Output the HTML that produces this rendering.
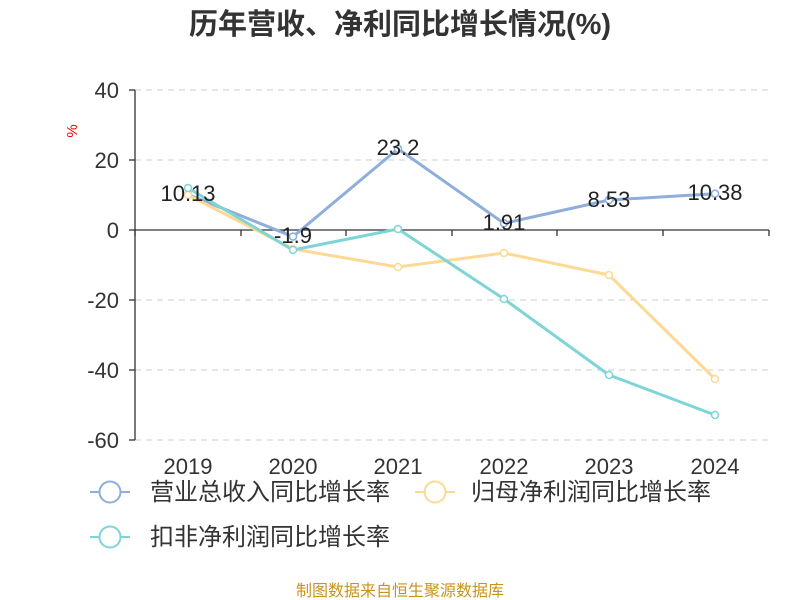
<!DOCTYPE html>
<html><head><meta charset="utf-8"><style>body{margin:0;background:#fff}svg{display:block}text{font-family:"Liberation Sans","Noto Sans CJK SC",sans-serif}</style></head><body>
<svg width="800" height="600" viewBox="0 0 800 600">
<text x="400" y="34" text-anchor="middle" font-size="29" font-weight="bold" fill="#333">历年营收、净利同比增长情况(%)</text>
<text transform="translate(77,131) rotate(-90)" text-anchor="middle" font-size="15" fill="#e00">%</text>
<g stroke="#ccc" stroke-dasharray="6,5" stroke-width="1">
<line x1="135" y1="90" x2="769" y2="90"/><line x1="135" y1="160" x2="769" y2="160"/><line x1="135" y1="300" x2="769" y2="300"/><line x1="135" y1="370" x2="769" y2="370"/><line x1="135" y1="440" x2="769" y2="440"/></g>
<g stroke="#333" stroke-width="1.3">
<line x1="135" y1="90" x2="135" y2="440"/>
<line x1="129" y1="90" x2="135" y2="90"/><line x1="129" y1="160" x2="135" y2="160"/><line x1="129" y1="230" x2="135" y2="230"/><line x1="129" y1="300" x2="135" y2="300"/><line x1="129" y1="370" x2="135" y2="370"/><line x1="129" y1="440" x2="135" y2="440"/>
<line x1="135" y1="230" x2="769" y2="230"/>
<line x1="135" y1="230" x2="135" y2="236"/><line x1="241" y1="230" x2="241" y2="236"/><line x1="346" y1="230" x2="346" y2="236"/><line x1="452" y1="230" x2="452" y2="236"/><line x1="557" y1="230" x2="557" y2="236"/><line x1="663" y1="230" x2="663" y2="236"/><line x1="769" y1="230" x2="769" y2="236"/></g>
<g font-size="22" fill="#333" text-anchor="end">
<text x="119" y="98">40</text><text x="119" y="168">20</text><text x="119" y="238">0</text><text x="119" y="308">-20</text><text x="119" y="378">-40</text><text x="119" y="448">-60</text></g>
<g font-size="22" fill="#333" text-anchor="middle">
<text x="188" y="474">2019</text><text x="293" y="474">2020</text><text x="398" y="474">2021</text><text x="504" y="474">2022</text><text x="609" y="474">2023</text><text x="715" y="474">2024</text></g>
<g fill="none" stroke-width="3">
<polyline stroke="#8eaedb" points="188,194.5 293,236.6 398,148.8 504,223.3 609,200 715,193.7"/>
<polyline stroke="#fdd993" points="188,195 293,249 398,267 504,253 609,275 715,379"/>
<polyline stroke="#7fd5d6" points="188,188 293,250 398,229 504,299 609,375 715,415"/></g>
<g fill="#fff" stroke-width="1.5">
<g stroke="#8eaedb"><circle cx="188" cy="194.5" r="3.5"/><circle cx="293" cy="236.6" r="3.5"/><circle cx="398" cy="148.8" r="3.5"/><circle cx="504" cy="223.3" r="3.5"/><circle cx="609" cy="200" r="3.5"/><circle cx="715" cy="193.7" r="3.5"/></g>
<g stroke="#fdd993"><circle cx="188" cy="195" r="3.5"/><circle cx="293" cy="249" r="3.5"/><circle cx="398" cy="267" r="3.5"/><circle cx="504" cy="253" r="3.5"/><circle cx="609" cy="275" r="3.5"/><circle cx="715" cy="379" r="3.5"/></g>
<g stroke="#7fd5d6"><circle cx="188" cy="188" r="3.5"/><circle cx="293" cy="250" r="3.5"/><circle cx="398" cy="229" r="3.5"/><circle cx="504" cy="299" r="3.5"/><circle cx="609" cy="375" r="3.5"/><circle cx="715" cy="415" r="3.5"/></g></g>
<g font-size="22" fill="#222" text-anchor="middle">
<text x="188" y="201">10.13</text><text x="293" y="243">-1.9</text><text x="398" y="155">23.2</text><text x="504" y="230">1.91</text><text x="609" y="207">8.53</text><text x="715" y="200">10.38</text></g>
<g stroke-width="2" fill="#fff">
<line x1="90" y1="492" x2="130" y2="492" stroke="#8eaedb"/><circle cx="110" cy="492" r="10.5" stroke="#8eaedb"/>
<line x1="415" y1="492" x2="455" y2="492" stroke="#fdd993"/><circle cx="435" cy="492" r="10.5" stroke="#fdd993"/>
<line x1="90" y1="537" x2="130" y2="537" stroke="#7fd5d6"/><circle cx="110" cy="537" r="10.5" stroke="#7fd5d6"/></g>
<g font-size="24" fill="#333">
<text x="150" y="500">营业总收入同比增长率</text><text x="471" y="500">归母净利润同比增长率</text><text x="150" y="545">扣非净利润同比增长率</text></g>
<text x="400" y="596" text-anchor="middle" font-size="16" fill="#c8931e">制图数据来自恒生聚源数据库</text>
</svg></body></html>
